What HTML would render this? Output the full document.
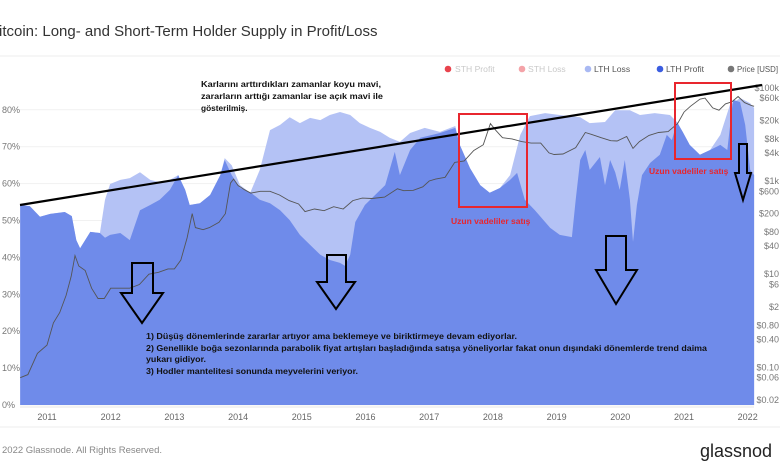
<!DOCTYPE html>
<html><head><meta charset="utf-8">
<style>
html,body{margin:0;padding:0;background:#fff;}
svg{display:block;font-family:"Liberation Sans","DejaVu Sans",sans-serif;}
</style></head>
<body>
<svg id="chart" width="780" height="470" viewBox="0 0 780 470" xmlns="http://www.w3.org/2000/svg">
  <text x="-1" y="36" font-size="15" fill="#333">itcoin: Long- and Short-Term Holder Supply in Profit/Loss</text>
  <line x1="0" y1="56" x2="780" y2="56" stroke="#eee" stroke-width="1"/>
  <g id="legend" font-size="8.6">
    <g><circle cx="448" cy="69" r="3.3" fill="#e8434d"/><text x="455" y="72" fill="#c9c9c9">STH Profit</text></g>
    <g><circle cx="522" cy="69" r="3.3" fill="#f4a3a8"/><text x="528" y="72" fill="#c9c9c9">STH Loss</text></g>
    <g><circle cx="588" cy="69" r="3.3" fill="#a9b9f3"/><text x="594" y="72" fill="#555">LTH Loss</text></g>
    <g><circle cx="660" cy="69" r="3.3" fill="#3b5de0"/><text x="666" y="72" fill="#555">LTH Profit</text></g>
    <g><circle cx="731" cy="69" r="3.3" fill="#777"/><text x="737" y="72" fill="#555" textLength="41" lengthAdjust="spacingAndGlyphs">Price [USD]</text></g>
  </g>
  <g id="grid"></g>
  <g id="yaxis-left" font-size="9" fill="#777"></g>
  <g id="yaxis-right" font-size="9" fill="#777"></g>
  <text x="385" y="290" font-size="58" font-weight="bold" fill="#000" fill-opacity="0.035" text-anchor="middle">glassnode</text>
  <g id="areas"></g>
  <g id="priceg"></g>
  <g id="xaxis" font-size="9" fill="#666"></g>
  <line x1="20" y1="407" x2="754" y2="407" stroke="#e4e4e4"/>
  <line x1="0" y1="427" x2="780" y2="427" stroke="#eee"/>
  <text x="2" y="453" font-size="9.5" fill="#888">2022 Glassnode. All Rights Reserved.</text>
  <text x="700" y="457" font-size="18" fill="#222">glassnod</text>

  <!-- annotations -->
  <line x1="20" y1="205" x2="762" y2="85" stroke="#000" stroke-width="2.2"/>
  <rect x="459" y="114" width="68" height="93" fill="none" stroke="#e8262e" stroke-width="2"/>
  <rect x="675" y="83" width="56" height="76" fill="none" stroke="#e8262e" stroke-width="2"/>
  <text x="451" y="224" font-size="8.5" font-weight="bold" fill="#e8262e">Uzun vadeliler satış</text>
  <text x="649" y="174" font-size="8.5" font-weight="bold" fill="#e8262e">Uzun vadeliler satış</text>
  <g font-size="8.3" font-weight="bold" fill="#111">
    <text x="201" y="87" textLength="180" lengthAdjust="spacingAndGlyphs">Karlarını arttırdıkları zamanlar koyu mavi,</text>
    <text x="201" y="99" textLength="182" lengthAdjust="spacingAndGlyphs">zararların arttığı zamanlar ise açık mavi ile</text>
    <text x="201" y="111">gösterilmiş.</text>
  </g>
  <g font-size="7.8" font-weight="bold" fill="#111">
    <text x="146" y="339" textLength="371" lengthAdjust="spacingAndGlyphs">1) Düşüş dönemlerinde zararlar artıyor ama beklemeye ve biriktirmeye devam ediyorlar.</text>
    <text x="146" y="351" textLength="561" lengthAdjust="spacingAndGlyphs">2) Genellikle boğa sezonlarında parabolik fiyat artışları başladığında satışa yöneliyorlar fakat  onun dışındaki dönemlerde trend daima</text>
    <text x="146" y="362" textLength="60" lengthAdjust="spacingAndGlyphs">yukarı gidiyor.</text>
    <text x="146" y="374" textLength="212" lengthAdjust="spacingAndGlyphs">3) Hodler mantelitesi sonunda meyvelerini veriyor.</text>
  </g>
  <g fill="none" stroke="#000" stroke-width="2">
    <polygon points="132,263 153,263 153,293 163,293 142,323 121,293 132,293"/>
    <polygon points="327,255 346,255 346,282 355,282 336,309 317,282 327,282"/>
    <polygon points="606,236 626,236 626,270 637,270 616,304 596,270 606,270"/>
    <polygon points="739,144 747,144 747,173 751,173 743,200 735,173 739,173"/>
  </g>
</svg>
<script>
// ---- data ----
const yearTicks = [2011,2012,2013,2014,2015,2016,2017,2018,2019,2020,2021,2022];
const pctTicks = [0,10,20,30,40,50,60,70,80];
const priceTicks = [100000,60000,20000,8000,4000,1000,600,200,80,40,10,6,2,0.8,0.4,0.1,0.06,0.02];
const priceTickLabels = ["$100k","$60k","$20k","$8k","$4k","$1k","$600","$200","$80","$40","$10","$6","$2","$0.80","$0.40","$0.10","$0.06","$0.02"];

const lthTotalDates = [2010.58,2010.73,2010.89,2011.05,2011.28,2011.39,2011.46,2011.52,2011.68,2011.83,2011.91,2011.99,2012.15,2012.30,2012.46,2012.62,2012.77,2012.93,2013.06,2013.17,2013.24,2013.40,2013.56,2013.72,2013.79,2013.90,2014.03,2014.19,2014.34,2014.50,2014.66,2014.81,2014.97,2015.13,2015.29,2015.44,2015.60,2015.76,2015.91,2016.07,2016.23,2016.38,2016.54,2016.70,2016.93,2017.17,2017.41,2017.48,2017.64,2017.80,2017.95,2018.11,2018.27,2018.43,2018.58,2018.82,2019.05,2019.37,2019.52,2019.76,2019.92,2020.15,2020.31,2020.54,2020.78,2020.89,2020.98,2021.09,2021.25,2021.41,2021.57,2021.72,2021.88,2022.04,2022.10];
const lthTotalPct = [54.2,53.9,51.0,51.8,52.3,51.2,44.7,42.5,46.9,46.6,55.6,59.9,61.0,61.5,63.1,61.0,60.4,61.0,62.3,58.3,54.2,54.7,56.9,62.3,66.9,65.0,59.6,57.5,63.7,74.5,75.9,78.0,76.4,77.8,77.2,78.6,79.4,78.6,76.4,75.1,74.0,72.4,71.3,73.7,75.1,74.0,75.6,70.5,64.2,59.6,57.5,58.8,62.3,73.2,78.3,79.1,78.6,78.0,76.4,76.7,79.9,79.9,78.6,79.1,78.6,76.7,74.0,70.5,67.8,69.1,73.2,81.3,83.2,81.8,80.5];

const lthProfitDates = [2010.58,2010.73,2010.89,2011.05,2011.28,2011.39,2011.46,2011.52,2011.68,2011.83,2011.91,2011.99,2012.15,2012.30,2012.46,2012.62,2012.77,2012.93,2013.06,2013.17,2013.24,2013.40,2013.56,2013.72,2013.79,2013.90,2014.03,2014.19,2014.34,2014.50,2014.66,2014.81,2014.97,2015.13,2015.29,2015.44,2015.60,2015.68,2015.76,2015.84,2015.99,2016.15,2016.31,2016.46,2016.54,2016.70,2016.86,2017.17,2017.41,2017.48,2017.64,2017.80,2017.95,2018.11,2018.27,2018.38,2018.50,2018.66,2018.90,2019.05,2019.24,2019.30,2019.37,2019.45,2019.52,2019.68,2019.76,2019.84,2019.92,2019.99,2020.07,2020.15,2020.20,2020.26,2020.34,2020.47,2020.62,2020.73,2020.81,2020.89,2020.98,2021.09,2021.25,2021.41,2021.57,2021.68,2021.77,2021.88,2021.96,2022.04,2022.10];
const lthProfitPct = [54.2,53.9,51.0,51.8,52.3,51.2,44.7,42.5,46.9,46.6,45.3,46.1,46.6,44.7,52.8,54.2,55.6,58.3,62.3,58.3,54.2,54.7,56.9,62.3,66.4,62.3,58.8,57.7,55.6,54.7,52.8,50.1,46.1,43.4,40.7,39.3,38.5,37.7,40.7,49.6,54.2,56.9,59.6,68.6,62.3,69.1,72.4,73.7,75.1,70.5,64.2,59.6,57.5,58.8,61.0,62.9,55.6,52.8,48.0,46.1,45.5,55.6,66.4,69.1,63.7,67.2,59.6,66.4,63.1,58.3,66.4,55.6,44.2,54.2,62.3,65.6,67.8,73.2,71.8,76.7,74.0,70.5,67.8,69.1,70.5,69.1,82.7,82.1,75.9,63.7,62.3];

const priceDates = [2010.58,2010.7,2010.85,2011.0,2011.1,2011.2,2011.3,2011.38,2011.44,2011.5,2011.6,2011.7,2011.8,2011.9,2012.0,2012.15,2012.3,2012.45,2012.6,2012.75,2012.9,2013.0,2013.1,2013.2,2013.28,2013.33,2013.45,2013.55,2013.7,2013.8,2013.88,2013.93,2014.0,2014.1,2014.2,2014.35,2014.5,2014.65,2014.8,2014.95,2015.05,2015.2,2015.35,2015.5,2015.65,2015.8,2015.95,2016.1,2016.3,2016.5,2016.6,2016.75,2016.9,2017.0,2017.1,2017.25,2017.4,2017.55,2017.7,2017.85,2017.96,2018.05,2018.15,2018.3,2018.45,2018.6,2018.75,2018.88,2018.96,2019.1,2019.3,2019.45,2019.55,2019.7,2019.85,2019.95,2020.1,2020.2,2020.3,2020.45,2020.6,2020.75,2020.9,2021.0,2021.1,2021.25,2021.33,2021.45,2021.55,2021.65,2021.75,2021.85,2021.95,2022.05,2022.1];
const priceUSD = [0.06,0.07,0.2,0.3,0.9,1.5,3.5,9,25,15,12,5,3,3,5,5,5,6,10,11,13,13,20,60,200,100,90,100,130,200,900,1100,800,650,550,600,600,500,380,320,220,250,230,280,250,380,430,420,450,680,620,630,750,1000,1100,1200,2500,2700,4500,6000,17000,12000,8500,8000,7000,6500,6500,4000,3700,3800,5200,11000,10000,8500,7300,7200,9000,5000,7000,9500,11000,11500,17000,30000,40000,57000,60000,37000,33000,45000,50000,65000,48000,42000,40000];

// ---- scales ----
const X0 = 47, PX_PER_YEAR = 63.7;
function xScale(t){ return X0 + (t - 2011) * PX_PER_YEAR; }
function yPct(p){ return 405 - p * 3.69; }
function yPrice(v){ return 400 - (Math.log10(v) + 1.7) * 46.6; }
const NS = "http://www.w3.org/2000/svg";
function mk(tag, attrs, parent){ const e = document.createElementNS(NS, tag); for (const k in attrs) e.setAttribute(k, attrs[k]); parent.appendChild(e); return e; }

const grid = document.getElementById('grid');
const yl = document.getElementById('yaxis-left');
pctTicks.forEach(p => {
  const gl = mk('line', {x1:20, x2:754, y1:yPct(p), y2:yPct(p), stroke:'#f1f1f1', 'stroke-width':1}, grid);
  
  
  const t = mk('text', {x:2, y:yPct(p) + 3}, yl);
  t.textContent = p + '%';
  
  
});
const yr = document.getElementById('yaxis-right');
priceTicks.forEach((v, i) => {
  const t = mk('text', {x:779, y:yPrice(v) + 3, 'text-anchor':'end'}, yr);
  t.textContent = priceTickLabels[i];
  
  
});
const xa = document.getElementById('xaxis');
yearTicks.forEach(y => {
  const t = mk('text', {x:xScale(y), y:420, 'text-anchor':'middle'}, xa);
  t.textContent = y;
  
  
});
function areaPath(dates, vals){
  let d = 'M' + xScale(dates[0]).toFixed(1) + ',' + yPct(0);
  dates.forEach((t, i) => { d += ' L' + xScale(t).toFixed(1) + ',' + yPct(vals[i]).toFixed(1); });
  d += ' L' + xScale(dates[dates.length-1]).toFixed(1) + ',' + yPct(0) + ' Z';
  return d;
}
const areas = document.getElementById('areas');
const aLoss = mk('path', {d:areaPath(lthTotalDates, lthTotalPct), fill:'#b4c2f5'}, areas);


const aProfit = mk('path', {d:areaPath(lthProfitDates, lthProfitPct), fill:'#6f8bea'}, areas);


let pd = '';
priceDates.forEach((t, i) => { pd += (i ? ' L' : 'M') + xScale(t).toFixed(1) + ',' + yPrice(priceUSD[i]).toFixed(1); });
const pl = mk('path', {d:pd, fill:'none', stroke:'#555', 'stroke-width':0.9}, document.getElementById('priceg'));


</script>
</body></html>
